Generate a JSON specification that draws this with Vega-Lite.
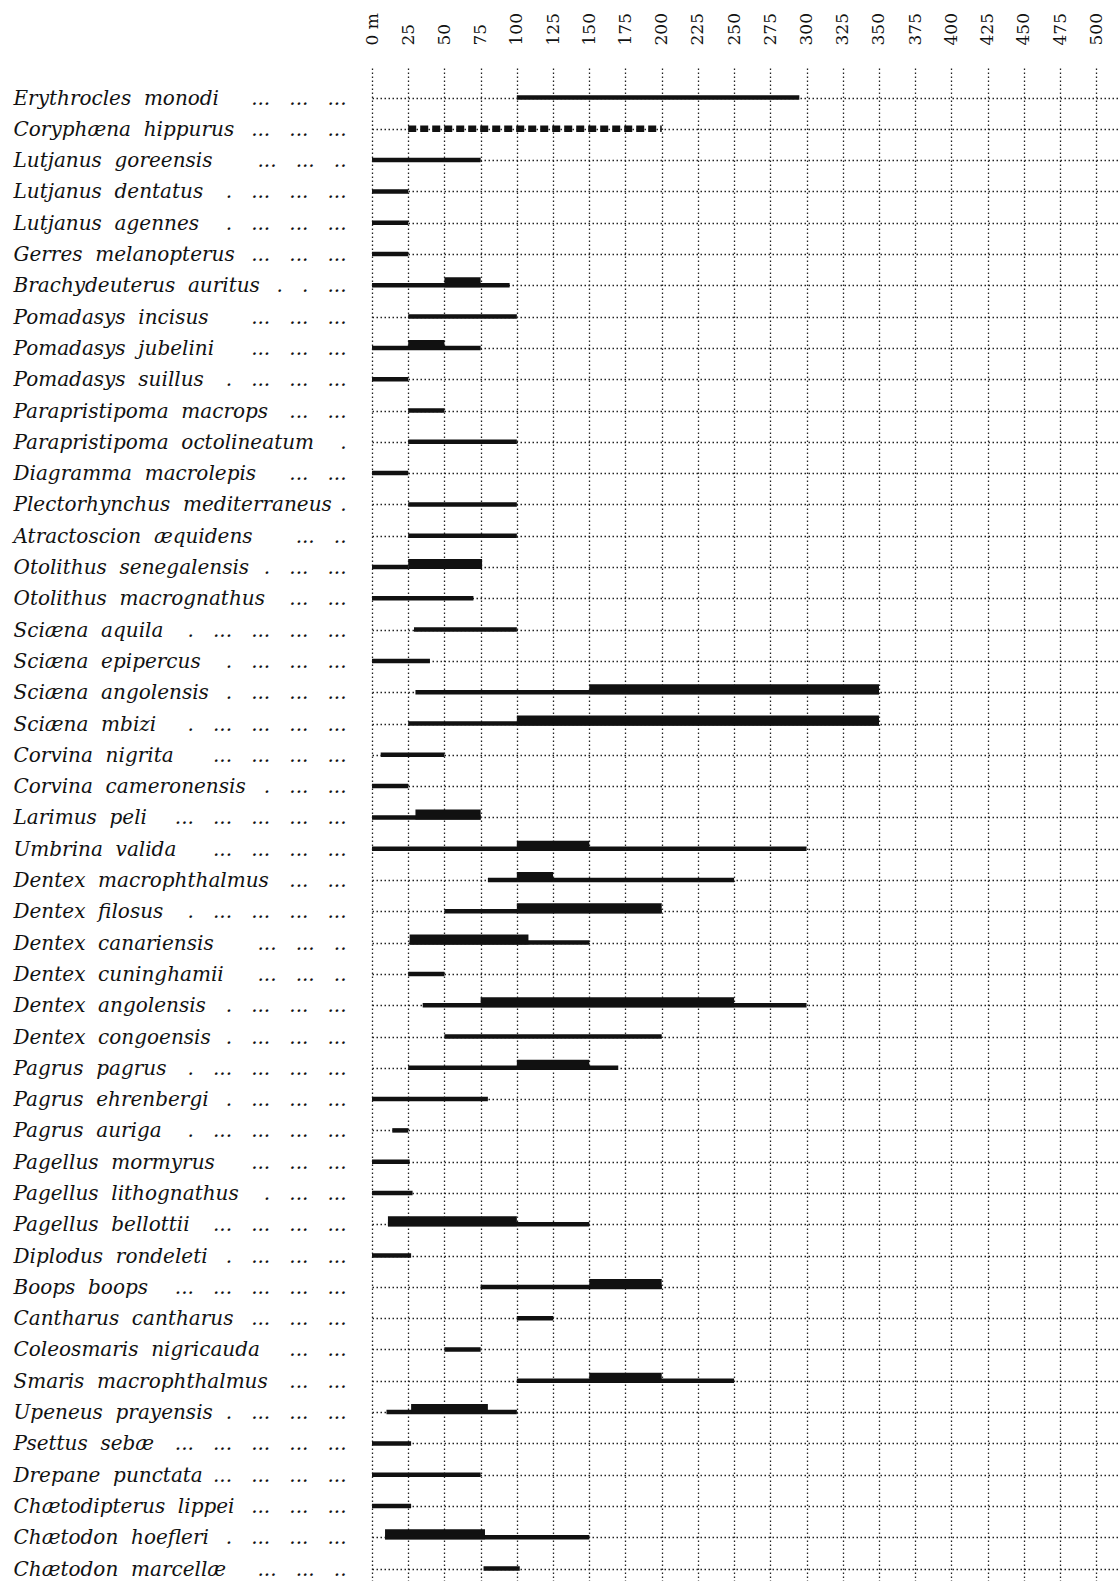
{
  "$schema": "https://vega.github.io/schema/vega-lite/v6.json",
  "autosize": {"type": "none"},
  "padding": {"left": 372, "top": 68, "right": 0, "bottom": 0},
  "width": 746,
  "height": 1513,
  "background": "white",
  "config": {"view": {"stroke": null}},
  "data": {"values": [
    {"species": "Erythrocles monodi|... ... ...", "type": "range", "from": 100, "to": 295},
    {"species": "Coryphæna hippurus|... ... ...", "type": "occasional", "from": 25, "to": 200},
    {"species": "Lutjanus goreensis|... ... ..", "type": "range", "from": 0, "to": 75},
    {"species": "Lutjanus dentatus|. ... ... ...", "type": "range", "from": 0, "to": 25},
    {"species": "Lutjanus agennes|. ... ... ...", "type": "range", "from": 0, "to": 25},
    {"species": "Gerres melanopterus|... ... ...", "type": "range", "from": 0, "to": 25},
    {"species": "Brachydeuterus auritus|. . ...", "type": "range", "from": 0, "to": 95},
    {"species": "Brachydeuterus auritus|. . ...", "type": "main", "from": 50, "to": 75},
    {"species": "Pomadasys incisus|... ... ...", "type": "range", "from": 25, "to": 100},
    {"species": "Pomadasys jubelini|... ... ...", "type": "range", "from": 0, "to": 75},
    {"species": "Pomadasys jubelini|... ... ...", "type": "main", "from": 25, "to": 50},
    {"species": "Pomadasys suillus|. ... ... ...", "type": "range", "from": 0, "to": 25},
    {"species": "Parapristipoma macrops|... ...", "type": "range", "from": 25, "to": 50},
    {"species": "Parapristipoma octolineatum|.", "type": "range", "from": 25, "to": 100},
    {"species": "Diagramma macrolepis|... ...", "type": "range", "from": 0, "to": 25},
    {"species": "Plectorhynchus mediterraneus|.", "type": "range", "from": 25, "to": 100},
    {"species": "Atractoscion æquidens|... ..", "type": "range", "from": 25, "to": 100},
    {"species": "Otolithus senegalensis|. ... ...", "type": "range", "from": 0, "to": 25},
    {"species": "Otolithus senegalensis|. ... ...", "type": "main", "from": 25, "to": 76},
    {"species": "Otolithus macrognathus|... ...", "type": "range", "from": 0, "to": 70},
    {"species": "Sciæna aquila|. ... ... ... ...", "type": "range", "from": 29, "to": 100},
    {"species": "Sciæna epipercus|. ... ... ...", "type": "range", "from": 0, "to": 40},
    {"species": "Sciæna angolensis|. ... ... ...", "type": "range", "from": 30, "to": 350},
    {"species": "Sciæna angolensis|. ... ... ...", "type": "main", "from": 150, "to": 350},
    {"species": "Sciæna mbizi|. ... ... ... ...", "type": "range", "from": 25, "to": 350},
    {"species": "Sciæna mbizi|. ... ... ... ...", "type": "main", "from": 100, "to": 350},
    {"species": "Corvina nigrita|... ... ... ...", "type": "range", "from": 6, "to": 50},
    {"species": "Corvina cameronensis|. ... ...", "type": "range", "from": 0, "to": 25},
    {"species": "Larimus peli|... ... ... ... ...", "type": "range", "from": 0, "to": 75},
    {"species": "Larimus peli|... ... ... ... ...", "type": "main", "from": 30, "to": 75},
    {"species": "Umbrina valida|... ... ... ...", "type": "range", "from": 0, "to": 300},
    {"species": "Umbrina valida|... ... ... ...", "type": "main", "from": 100, "to": 150},
    {"species": "Dentex macrophthalmus|... ...", "type": "range", "from": 80, "to": 250},
    {"species": "Dentex macrophthalmus|... ...", "type": "main", "from": 100, "to": 125},
    {"species": "Dentex filosus|. ... ... ... ...", "type": "range", "from": 50, "to": 200},
    {"species": "Dentex filosus|. ... ... ... ...", "type": "main", "from": 100, "to": 200},
    {"species": "Dentex canariensis|... ... ..", "type": "range", "from": 26, "to": 150},
    {"species": "Dentex canariensis|... ... ..", "type": "main", "from": 26, "to": 108},
    {"species": "Dentex cuninghamii|... ... ..", "type": "range", "from": 25, "to": 50},
    {"species": "Dentex angolensis|. ... ... ...", "type": "range", "from": 35, "to": 300},
    {"species": "Dentex angolensis|. ... ... ...", "type": "main", "from": 75, "to": 250},
    {"species": "Dentex congoensis|. ... ... ...", "type": "range", "from": 50, "to": 200},
    {"species": "Pagrus pagrus|. ... ... ... ...", "type": "range", "from": 25, "to": 170},
    {"species": "Pagrus pagrus|. ... ... ... ...", "type": "main", "from": 100, "to": 150},
    {"species": "Pagrus ehrenbergi|. ... ... ...", "type": "range", "from": 0, "to": 80},
    {"species": "Pagrus auriga|. ... ... ... ...", "type": "range", "from": 14, "to": 25},
    {"species": "Pagellus mormyrus|... ... ...", "type": "range", "from": 0, "to": 26},
    {"species": "Pagellus lithognathus|. ... ...", "type": "range", "from": 0, "to": 28},
    {"species": "Pagellus bellottii|... ... ... ...", "type": "range", "from": 11, "to": 150},
    {"species": "Pagellus bellottii|... ... ... ...", "type": "main", "from": 11, "to": 100},
    {"species": "Diplodus rondeleti|. ... ... ...", "type": "range", "from": 0, "to": 27},
    {"species": "Boops boops|... ... ... ... ...", "type": "range", "from": 75, "to": 200},
    {"species": "Boops boops|... ... ... ... ...", "type": "main", "from": 150, "to": 200},
    {"species": "Cantharus cantharus|... ... ...", "type": "range", "from": 100, "to": 125},
    {"species": "Coleosmaris nigricauda|... ...", "type": "range", "from": 50, "to": 75},
    {"species": "Smaris macrophthalmus|... ...", "type": "range", "from": 100, "to": 250},
    {"species": "Smaris macrophthalmus|... ...", "type": "main", "from": 150, "to": 200},
    {"species": "Upeneus prayensis|. ... ... ...", "type": "range", "from": 10, "to": 100},
    {"species": "Upeneus prayensis|. ... ... ...", "type": "main", "from": 27, "to": 80},
    {"species": "Psettus sebæ|... ... ... ... ...", "type": "range", "from": 0, "to": 27},
    {"species": "Drepane punctata|... ... ... ...", "type": "range", "from": 0, "to": 75},
    {"species": "Chætodipterus lippei|... ... ...", "type": "range", "from": 0, "to": 27},
    {"species": "Chætodon hoefleri|. ... ... ...", "type": "range", "from": 9, "to": 150},
    {"species": "Chætodon hoefleri|. ... ... ...", "type": "main", "from": 9, "to": 78},
    {"species": "Chætodon marcellæ|... ... ..", "type": "range", "from": 77, "to": 102}
  ]},
  "encoding": {
    "x": {
      "field": "from", "type": "quantitative",
      "scale": {"domain": [0, 515], "nice": false, "zero": false},
      "axis": {
        "orient": "top", "title": null,
        "values": [0, 25, 50, 75, 100, 125, 150, 175, 200, 225, 250, 275, 300, 325, 350, 375, 400, 425, 450, 475, 500],
        "labelExpr": "datum.value == 0 ? '0 m' : datum.label",
        "labelAngle": -90, "labelAlign": "left", "labelBaseline": "middle",
        "labelPadding": 23, "ticks": false, "domain": false,
        "labelFlush": false, "labelOverlap": false,
        "labelFont": "DejaVu Serif", "labelFontSize": 17, "labelColor": "#111111",
        "grid": true, "gridDash": [1.5, 2.5], "gridColor": "#222222", "gridWidth": 1.3, "gridOpacity": 1
      }
    },
    "x2": {"field": "to"}
  },
  "resolve": {"axis": {"y": "independent"}},
  "layer": [
    {
      "mark": {"type": "rule", "strokeWidth": 4.5, "color": "#111111"},
      "encoding": {
        "y": {
          "field": "species", "type": "nominal", "sort": null,
          "scale": {"type": "point", "padding": 0.67, "align": 0.704},
          "axis": {
            "orient": "left", "title": null,
            "labelExpr": "replace(split(datum.label, '|')[0], regexp(' ', 'g'), '\u00a0\u00a0')",
            "labelAlign": "left", "labelBaseline": "alphabetic", "labelOffset": 6.5, "labelPadding": 359,
            "labelLimit": 0, "ticks": false, "domain": false,
            "labelFont": "DejaVu Serif", "labelFontStyle": "italic", "labelFontSize": 20, "labelColor": "#111111",
            "grid": true, "gridDash": [1.5, 2.5], "gridColor": "#222222", "gridWidth": 1.3, "gridOpacity": 1
          }
        },
        "opacity": {"condition": {"test": "datum.type == 'range'", "value": 1}, "value": 0}
      }
    },
    {
      "mark": {"type": "rule", "strokeWidth": 10, "color": "#111111", "yOffset": -3},
      "encoding": {
        "y": {"field": "species", "type": "nominal", "sort": null, "axis": null},
        "opacity": {"condition": {"test": "datum.type == 'main'", "value": 1}, "value": 0}
      }
    },
    {
      "mark": {"type": "rule", "strokeWidth": 6.5, "color": "#111111", "strokeDash": [8, 4]},
      "encoding": {
        "y": {"field": "species", "type": "nominal", "sort": null, "axis": null},
        "opacity": {"condition": {"test": "datum.type == 'occasional'", "value": 1}, "value": 0}
      }
    },
    {
      "mark": {"type": "rule", "opacity": 0},
      "encoding": {
        "y": {
          "field": "species", "type": "nominal", "sort": null,
          "axis": {
            "orient": "right", "title": null,
            "labelExpr": "replace(split(datum.label, '|')[1], regexp(' ', 'g'), '\u00a0\u00a0\u00a0')",
            "labelAlign": "right", "labelBaseline": "alphabetic", "labelOffset": 6.5, "labelPadding": -772,
            "labelLimit": 0, "ticks": false, "domain": false, "grid": false,
            "labelFont": "DejaVu Serif", "labelFontStyle": "italic", "labelFontSize": 20, "labelColor": "#111111"
          }
        }
      }
    }
  ]
}
